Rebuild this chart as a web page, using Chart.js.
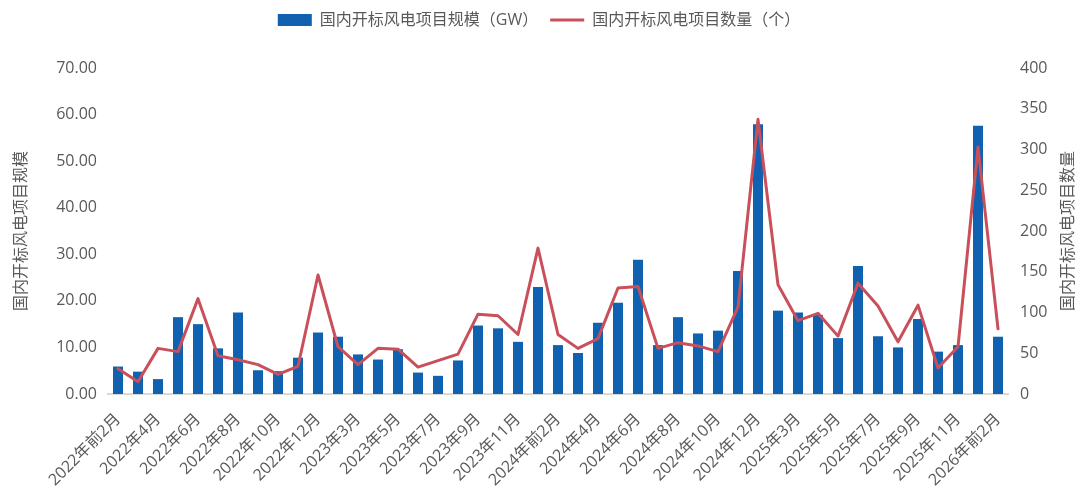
<!DOCTYPE html>
<html>
<head>
<meta charset="utf-8">
<script src="https://cdn.jsdelivr.net/npm/chart.js@4/dist/chart.umd.min.js"></script>
<style>
html,body{margin:0;padding:0;background:#fff;}
#wrap{width:1078px;height:490px;position:relative;}
</style>
</head>
<body>
<div id="wrap"><canvas id="c" width="1078" height="490"></canvas></div>
<script>
const categories = ["2022年前2月","2022年3月","2022年4月","2022年5月","2022年6月","2022年7月","2022年8月","2022年9月","2022年10月","2022年11月","2022年12月",
"2023年前2月","2023年3月","2023年4月","2023年5月","2023年6月","2023年7月","2023年8月","2023年9月","2023年10月","2023年11月","2023年12月",
"2024年前2月","2024年3月","2024年4月","2024年5月","2024年6月","2024年7月","2024年8月","2024年9月","2024年10月","2024年11月","2024年12月",
"2025年前2月","2025年3月","2025年4月","2025年5月","2025年6月","2025年7月","2025年8月","2025年9月","2025年10月","2025年11月","2025年12月",
"2026年前2月"];
const capacityGW = [5.9,4.8,3.2,16.5,15.0,9.8,17.5,5.1,4.9,7.8,13.2,12.3,8.5,7.4,9.6,4.6,3.9,7.2,14.7,14.1,11.2,23.0,10.5,8.8,15.3,19.6,28.8,10.5,16.5,13.0,13.6,26.4,57.9,17.9,17.5,17.0,12.0,27.5,12.4,10.0,16.1,9.1,10.5,57.6,12.3];
const projectCount = [31,15,56,52,117,47,42,36,24,34,146,58,36,56,55,33,41,49,98,96,73,179,73,56,68,130,132,56,63,59,52,107,337,134,90,99,71,136,108,64,109,32,58,303,80];
const leftTicks = [0,10,20,30,40,50,60,70];
const rightTicks = [0,50,100,150,200,250,300,350,400];
const seriesNames = ["国内开标风电项目规模（GW）","国内开标风电项目数量（个）"];
const leftTitle = "国内开标风电项目规模";
const rightTitle = "国内开标风电项目数量";

const FONT = "'Open Sans','Noto Sans CJK SC',sans-serif";
const TXT = '#595959';
const BLUE = '#1161B1';
const RED = '#C9505B';

const rightTitlePlugin = {
  id: 'rightTitle',
  beforeLayout(chart) {
    const lg = chart.legend;
    if (lg && !lg._wrappedFit) {
      const orig = lg.fit;
      lg.fit = function () { orig.call(this); this.height = 68; };
      lg._wrappedFit = true;
    }
  },
  afterDraw(chart) {
    const ctx = chart.ctx;
    const a = chart.chartArea;
    ctx.save();
    ctx.translate(1068, (a.top + a.bottom) / 2);
    ctx.rotate(-Math.PI / 2);
    ctx.font = "16px " + FONT;
    ctx.fillStyle = TXT;
    ctx.textAlign = 'center';
    ctx.textBaseline = 'middle';
    ctx.fillText(rightTitle, 0, 0);
    ctx.restore();
  }
};

new Chart(document.getElementById('c'), {
  data: {
    labels: categories,
    datasets: [
      {
        type: 'bar', label: seriesNames[0], data: capacityGW, yAxisID: 'y',
        backgroundColor: BLUE, borderWidth: 0, barPercentage: 0.5, categoryPercentage: 1,
        order: 2, pointStyle: 'rect'
      },
      {
        type: 'line', label: seriesNames[1], data: projectCount, yAxisID: 'y1',
        borderColor: RED, backgroundColor: RED, borderWidth: 3, pointRadius: 0, tension: 0,
        borderJoinStyle: 'round', borderCapStyle: 'round',
        order: 1, pointStyle: 'line'
      }
    ]
  },
  options: {
    responsive: false,
    animation: false,
    layout: { padding: { top: 0, left: 0, right: 0, bottom: 0 } },
    plugins: {
      tooltip: { enabled: false },
      legend: {
        position: 'top',
        labels: {
          usePointStyle: true, pointStyleWidth: 34, boxHeight: 12,
          font: { size: 16, family: FONT }, color: TXT, padding: 12,
          sort: (a, b) => a.datasetIndex - b.datasetIndex
        }
      }
    },
    scales: {
      x: {
        offset: true,
        grid: { display: false, drawTicks: false },
        border: { display: true, color: '#D9D9D9', width: 2 },
        ticks: {
          autoSkip: false, maxRotation: 45, minRotation: 45, padding: 16,
          font: { size: 16, family: FONT }, color: TXT,
          callback: function (v, i) { return i % 2 === 0 ? categories[i] : ''; }
        },
        afterFit(s) { s.height = 96; }
      },
      y: {
        position: 'left', min: 0, max: 70,
        grid: { display: false, drawTicks: false },
        border: { display: false },
        afterBuildTicks(s) { s.ticks = leftTicks.map(v => ({ value: v })); },
        ticks: {
          padding: 11, font: { size: 16, family: FONT }, color: TXT,
          callback: v => Number(v).toFixed(2)
        },
        title: {
          display: true, text: leftTitle, color: TXT,
          font: { size: 16, family: FONT }, padding: { top: 12, bottom: 0 }
        },
        afterFit(s) { s.width = 108; }
      },
      y1: {
        position: 'right', min: 0, max: 400,
        grid: { display: false, drawTicks: false },
        border: { display: false },
        afterBuildTicks(s) { s.ticks = rightTicks.map(v => ({ value: v })); },
        ticks: { padding: 12, font: { size: 16, family: FONT }, color: TXT },
        afterFit(s) { s.width = 70; }
      }
    }
  },
  plugins: [rightTitlePlugin]
});
</script>
</body>
</html>
